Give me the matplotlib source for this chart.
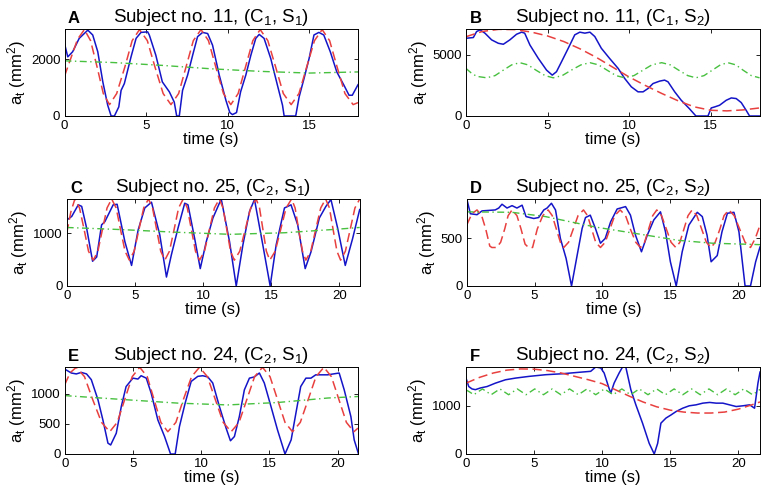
import matplotlib
matplotlib.use("Agg")
import matplotlib.pyplot as plt

plt.rcParams["font.family"] = ["Liberation Sans", "DejaVu Sans"]
plt.rcParams["mathtext.fontset"] = "custom"
plt.rcParams["mathtext.rm"] = "Liberation Sans"
plt.rcParams["mathtext.it"] = "Liberation Sans:italic"

BLUE = "#1414c8"
RED = "#e8403f"
GREEN = "#48c040"

# ---- Panel A: subject 11, (C1, S1) ----
a_blue_t = [0, 0.2, 0.5, 0.9, 1.43, 1.73, 2.04, 2.35, 2.65, 2.86, 3.06, 3.33, 3.47, 3.67, 4.08,
            4.39, 4.69, 5.1, 5.2, 5.6, 6.0, 6.43, 6.73, 6.88, 7.04, 7.24, 7.55, 7.86, 8.16, 8.47,
            8.78, 9.08, 9.49, 9.9, 10.14, 10.3, 10.55, 10.8, 11.12, 11.43, 11.73, 11.94, 12.24,
            12.65, 13.06, 13.37, 13.47, 14.18, 14.39, 14.69, 15.0, 15.3, 15.6, 15.9, 16.3, 16.7,
            17.14, 17.45, 17.65, 18.0]
a_blue_v = [2550, 2080, 2260, 2730, 3020, 2850, 2260, 1200, 380, 0, 0, 320, 900, 1140, 2080,
            2730, 2940, 2960, 2850, 2140, 1200, 850, 490, 0, 0, 900, 1440, 2140, 2790, 2940,
            2900, 2490, 1440, 550, 120, 50, 120, 850, 1440, 2140, 2730, 2870, 2730,
            2020, 1080, 380, 0, 0, 670, 1320, 2020, 2850, 2940, 2850, 2260, 1550,
            1080, 730, 730, 1100]
a_red_t = [0, 0.4, 0.8, 1.22, 1.6, 2.0, 2.38, 2.76, 3.2, 3.7, 4.15, 4.6, 5.08, 5.55, 6.05, 6.53,
           7.0, 7.45, 7.9, 8.37, 8.83, 9.28, 9.75, 10.2, 10.65, 11.1, 11.55, 12.0, 12.47, 12.95,
           13.42, 13.9, 14.38, 14.85, 15.33, 15.8, 16.26, 16.72, 17.2, 17.7, 18.0]
a_red_v = [1400, 2050, 2700, 3040, 2650, 1720, 790, 400, 790, 1720, 2650, 3040, 2650, 1720, 790, 400,
           790, 1720, 2650, 3040, 2650, 1720, 790, 400, 790, 1720, 2650, 3040, 2650, 1720,
           790, 400, 790, 1720, 2650, 3040, 2650, 1720, 790, 400, 470]
a_green_t = [0, 3, 6, 9, 12, 15, 18]
a_green_v = [1940, 1880, 1780, 1660, 1570, 1510, 1550]

# ---- Panel B: subject 11, (C1, S2) ----
b_blue_t = [0, 0.45, 0.65, 0.86, 1.16, 1.57, 1.98, 2.29, 2.69, 3.1, 3.41, 3.6, 3.92, 4.43, 4.94,
            5.29, 5.55, 5.86, 6.27, 6.67, 6.98, 7.29, 7.6, 7.9, 8.3, 8.8, 9.33, 9.73, 10.14,
            10.55, 10.86, 11.16, 11.47, 11.88, 12.18, 12.39, 12.8, 13.2, 13.7, 14.1, 14.84,
            15.04, 15.24, 15.55, 15.96, 16.27, 16.57, 16.88, 17.18, 17.39, 18.0]
b_blue_v = [6370, 6430, 6920, 7060, 6790, 6240, 5960, 5880, 6240, 6700, 6870, 6790, 5820, 4730, 3760,
            3350, 3630, 4450, 5550, 6650, 6870, 6790, 6870, 6510, 5550, 4730, 3900, 3080, 2390,
            1980, 1980, 2250, 2660, 2860, 2940, 2800, 1980, 1290, 600, 0, 0,
            660, 740, 880, 1290, 1480, 1430, 1100, 470, 0, 0]
b_red_t = [0, 1, 2, 3, 4, 5, 6, 7, 8, 9, 10, 11, 12, 13, 14, 15, 16, 17, 18]
b_red_v = [6500, 6930, 7100, 7080, 6880, 6560, 6100, 5500, 4800, 4000, 3200, 2500, 1850, 1250, 750,
           470, 420, 500, 660]
b_green_t = [0, 0.3, 0.65, 1.27, 1.78, 2.28, 2.8, 3.3, 3.8, 4.3, 4.85, 5.35, 5.9, 6.45, 7.05, 7.6,
             8.13, 8.66, 9.2, 9.73, 10.3, 10.85, 11.4, 12.0, 12.53, 13.05, 13.6, 14.1, 14.6, 15.1,
             15.6, 16.06, 16.55, 17.0, 17.5, 18.0]
b_green_v = [3900, 3550, 3250, 3130, 3310, 3750, 4190, 4370, 4190, 3750, 3310, 3130, 3310, 3750, 4190, 4370,
             4190, 3750, 3310, 3130, 3310, 3750, 4190, 4370, 4190, 3750, 3310, 3130, 3310, 3750,
             4190, 4370, 4190, 3750, 3310, 3130]

# ---- Panel C: subject 25, (C2, S1) ----
c_blue_t = [0, 0.37, 0.85, 1.1, 1.46, 1.9, 2.2, 2.56, 2.8, 3.41, 3.7, 4.27, 4.76, 5.24, 5.73, 6.22,
            6.83, 7.32, 7.68, 8.17, 8.66, 8.9, 9.39, 9.8, 10.24, 10.73, 11.34, 11.95, 12.44, 12.93,
            13.41, 13.78, 14.39, 14.93, 15.37, 15.98, 16.46, 16.95, 17.5, 17.93, 18.54, 19.02,
            19.39, 19.88, 20.44, 20.98, 21.5]
c_blue_v = [1250, 1320, 1540, 1510, 1100, 470, 550, 1160, 1220, 1540, 1550, 840, 390, 1060, 1480, 1590,
            970, 170, 590, 1100, 1570, 1540, 900, 330, 840, 1290, 1650, 840, 0, 780,
            1410, 1640, 780, 0, 780, 1480, 1540, 1160, 330, 650, 1290, 1510,
            1640, 1100, 390, 900, 1450]
c_red_t = [0, 0.3, 0.6, 0.94, 1.28, 1.6, 1.95, 2.29, 2.62, 2.96, 3.3, 3.63, 3.95, 4.28, 4.6, 4.95,
           5.3, 5.65, 6.0, 6.3, 6.6, 6.9, 7.2, 7.54, 7.88, 8.21, 8.55, 8.85, 9.15, 9.45, 9.75,
           10.11, 10.47, 10.84, 11.2, 11.47, 11.75, 12.02, 12.3, 12.7, 13.1, 13.5, 13.9, 14.15,
           14.4, 14.65, 14.9, 15.3, 15.7, 16.1, 16.5, 16.76, 17.02, 17.3, 17.55, 17.91, 18.27,
           18.64, 19.0, 19.28, 19.55, 19.83, 20.1, 20.45, 20.8, 21.15, 21.5]
c_red_v = [1000, 1400, 1650, 1480, 1070, 660, 490, 660, 1070, 1480, 1650, 1480, 1070, 660, 490, 660,
           1070, 1480, 1650, 1480, 1070, 660, 490, 660, 1070, 1480, 1650, 1480, 1070, 660, 490,
           660, 1070, 1480, 1650, 1480, 1070, 660, 490, 660, 1070, 1480, 1650, 1480,
           1070, 660, 490, 660, 1070, 1480, 1650, 1480, 1070, 660, 490, 660, 1070,
           1480, 1650, 1480, 1070, 660, 490, 660, 1070, 1480, 1650]
c_green_t = [0, 4, 8, 12, 16, 20, 21.5]
c_green_v = [1110, 1070, 1020, 980, 1010, 1080, 1110]

# ---- Panel D: subject 25, (C2, S2) ----
d_blue_t = [0, 0.27, 0.76, 1.13, 2.1, 2.36, 2.6, 2.97, 3.34, 3.7, 4.08, 4.37, 4.94, 5.3, 5.68, 5.92,
            6.24, 6.54, 6.9, 7.32, 7.72, 8.13, 8.5, 8.75, 9.1, 9.48, 9.85, 10.2, 10.6, 11.08, 11.7,
            12.06, 12.43, 12.87, 13.3, 13.78, 14.27, 14.64, 15.0, 15.43, 15.87, 16.36, 16.98,
            17.35, 17.7, 18.0, 18.45, 18.8, 19.2, 19.68, 20.05, 20.5, 20.9, 21.28, 21.6]
d_blue_v = [920, 760, 750, 790, 800, 820, 860, 820, 845, 820, 850, 730, 710, 720, 800, 820,
            870, 800, 500, 290, 0, 320, 605, 720, 745, 605, 450, 500, 675, 810, 835,
            745, 535, 360, 535, 695, 780, 570, 255, 0, 360, 640, 775,
            730, 535, 255, 320, 570, 765, 775, 570, 0, 0, 255, 410]
d_red_t = [0, 0.38, 0.76, 1.1, 1.4, 1.7, 1.85, 2.2, 2.5, 2.8, 3.05, 3.34, 3.7, 4.0, 4.3, 4.55, 4.85,
           5.2, 5.6, 6.0, 6.3, 6.6, 6.9, 7.15, 7.5, 7.85, 8.2, 8.6, 8.9, 9.2, 9.5, 9.85, 10.2,
           10.55, 10.9, 11.3, 11.7, 12.05, 12.45, 12.8, 13.1, 13.4, 13.7, 14.0, 14.35, 14.7,
           15.05, 15.4, 15.7, 16.0, 16.3, 16.6, 16.95, 17.3, 17.65, 18.0, 18.3, 18.65, 18.95,
           19.3, 19.7, 20.1, 20.5, 20.9, 21.25, 21.6]
d_red_v = [640, 760, 800, 740, 600, 420, 405, 405, 460, 600, 740, 800, 740, 600, 440, 405, 405,
           600, 740, 800, 740, 600, 460, 405, 460, 600, 740, 800, 740, 600, 460, 405, 460,
           600, 740, 800, 740, 600, 460, 405, 460, 600, 740, 800, 740, 600,
           460, 405, 460, 600, 740, 800, 740, 600, 460, 405, 460, 600, 740,
           800, 740, 600, 460, 405, 500, 640]
d_green_t = [0, 3.34, 5.8, 9.48, 13.2, 15.6, 18.1, 21.6]
d_green_v = [780, 775, 730, 620, 535, 480, 450, 435]

# ---- Panel E: subject 24, (C2, S1) ----
e_blue_t = [0, 0.49, 0.85, 1.22, 1.6, 1.95, 2.44, 2.8, 3.17, 3.37, 3.78, 4.15, 4.5, 5.0, 5.37, 5.6,
            5.98, 6.34, 6.83, 7.32, 7.76, 8.1, 8.41, 8.83, 9.27, 9.76, 10.12, 10.49, 10.85, 11.34,
            11.83, 12.15, 12.44, 12.8, 13.17, 13.54, 13.9, 14.27, 14.63, 15.12, 15.6, 16.15, 16.6,
            16.95, 17.3, 17.68, 18.05, 18.4, 19.27, 20.12, 20.49, 20.98, 21.22, 21.54]
e_blue_v = [1410, 1345, 1330, 1355, 1330, 1235, 900, 565, 180, 150, 345, 790, 1120, 1260, 1245, 1300,
            1260, 1010, 565, 290, 0, 0, 455, 845, 1205, 1290, 1300, 1280, 1180, 790,
            430, 220, 290, 620, 1065, 1260, 1280, 1345, 1180, 790, 400, 0, 235,
            680, 1120, 1260, 1260, 1315, 1315, 1345, 1065, 620, 235, 0]
e_red_t = [0, 0.4, 0.85, 1.45, 2.05, 2.7, 3.3, 3.85, 4.4, 4.95, 5.5, 6.05, 6.55, 7.05, 7.56, 8.15,
           8.7, 9.3, 9.88, 10.46, 11.04, 11.62, 12.2, 12.78, 13.35, 13.92, 14.5, 15.05, 15.6,
           16.15, 16.7, 17.27, 17.85, 18.42, 19.0, 19.55, 20.1, 20.65, 21.2, 21.5]
e_red_v = [1150, 1350, 1440, 1285, 905, 525, 370, 525, 905, 1285, 1440, 1285, 905, 525, 370, 525,
           905, 1285, 1440, 1285, 905, 525, 370, 525, 905, 1285, 1440, 1285, 905,
           525, 370, 525, 905, 1285, 1440, 1285, 905, 525, 370, 430]
e_green_t = [0, 4.6, 8.3, 11.95, 15.6, 19.3, 21.5]
e_green_v = [970, 900, 845, 815, 855, 930, 955]

# ---- Panel F: subject 24, (C2, S2) ----
f_blue_t = [0, 0.2, 0.44, 0.69, 1.06, 1.55, 2.16, 2.9, 3.64, 4.62, 5.85, 7.08, 8.3, 9.16, 9.53,
            9.9, 10.15, 10.5, 10.64, 10.88, 11.25, 11.5, 11.74, 12.11, 12.48, 12.97, 13.46,
            13.83, 14.08, 14.32, 14.69, 15.06, 15.43, 15.92, 16.4, 16.9, 17.4, 17.9, 18.38,
            18.87, 19.36, 19.85, 20.34, 20.84, 21.2, 21.45, 21.6]
f_blue_v = [1575, 1400, 1350, 1335, 1370, 1400, 1470, 1540, 1575, 1610, 1645, 1665, 1695, 1715, 1805,
            1785, 1680, 1370, 1265, 1470, 1680, 1805, 1805, 1335, 1020, 640, 220,
            0, 220, 640, 745, 810, 880, 950, 1000, 1020, 1055, 1070, 1055,
            1055, 1020, 985, 1000, 1020, 950, 1470, 1700]
f_red_t = [0, 1, 2, 3, 4, 5, 6, 7, 8, 9, 10, 11, 12, 13, 14, 15, 16, 17, 18, 19, 20, 21, 21.6]
f_red_v = [1470, 1590, 1680, 1740, 1765, 1760, 1730, 1680, 1610, 1540, 1460, 1330, 1200, 1080,
           980, 910, 870, 850, 850, 870, 930, 1020, 1080]
f_green_t = [0, 0.25, 0.57, 0.89, 1.21, 1.53, 1.85, 2.17, 2.49, 2.81, 3.13, 3.45, 3.77, 4.09,
             4.41, 4.73, 5.05, 5.37, 5.69, 6.01, 6.33, 6.65, 6.97, 7.29, 7.61, 7.93, 8.25, 8.57,
             8.89, 9.21, 9.53, 9.85, 10.17, 10.49, 10.81, 11.13, 11.45, 11.77, 12.09, 12.41,
             12.73, 13.05, 13.37, 13.69, 14.01, 14.33, 14.65, 14.97, 15.29, 15.61, 15.93, 16.25,
             16.57, 16.89, 17.21, 17.53, 17.85, 18.17, 18.49, 18.81, 19.13, 19.45, 19.77, 20.09,
             20.41, 20.73, 21.05, 21.37, 21.6]
f_green_v = [1330, 1290, 1230, 1290, 1350, 1290, 1230, 1290, 1350, 1290, 1230, 1290, 1350, 1290,
             1230, 1290, 1350, 1290, 1230, 1290, 1350, 1290, 1230, 1290, 1350, 1290, 1230, 1290,
             1350, 1290, 1230, 1290, 1350, 1290, 1230, 1290, 1350, 1290, 1230, 1290,
             1350, 1290, 1230, 1290, 1350, 1290, 1230, 1290, 1350, 1290, 1230, 1290,
             1350, 1290, 1230, 1290, 1350, 1290, 1230, 1290, 1350, 1290, 1230, 1290,
             1350, 1290, 1230, 1290, 1340]

letters = ["A", "B", "C", "D", "E", "F"]
titles = ["Subject no. 11, (C$_1$, S$_1$)", "Subject no. 11, (C$_1$, S$_2$)",
          "Subject no. 25, (C$_2$, S$_1$)", "Subject no. 25, (C$_2$, S$_2$)",
          "Subject no. 24, (C$_2$, S$_1$)", "Subject no. 24, (C$_2$, S$_2$)"]
x_max = [18, 18, 21.5, 21.6, 21.5, 21.6]
y_max = [3060, 7130, 1650, 915, 1445, 1805]
x_ticks = [[0, 5, 10, 15]] * 2 + [[0, 5, 10, 15, 20]] * 4
y_ticks = [[0, 2000], [0, 5000], [0, 1000], [0, 500], [0, 500, 1000], [0, 1000]]

series = [
    (a_blue_t, a_blue_v, a_red_t, a_red_v, a_green_t, a_green_v),
    (b_blue_t, b_blue_v, b_red_t, b_red_v, b_green_t, b_green_v),
    (c_blue_t, c_blue_v, c_red_t, c_red_v, c_green_t, c_green_v),
    (d_blue_t, d_blue_v, d_red_t, d_red_v, d_green_t, d_green_v),
    (e_blue_t, e_blue_v, e_red_t, e_red_v, e_green_t, e_green_v),
    (f_blue_t, f_blue_v, f_red_t, f_red_v, f_green_t, f_green_v),
]

# axes boxes in figure pixels: left, right, top, bottom (figure is 765 x 495)
boxes = [(64.5, 358, 29, 116), (466, 759.5, 29, 116),
         (66.7, 359.7, 199, 286), (466.7, 760, 199, 286),
         (64.7, 358, 367, 454), (466, 760, 367, 454)]

W, H = 765, 495
fig = plt.figure(figsize=(W / 100, H / 100), dpi=100)

for i, (bt, bv, rt, rv, gt, gv) in enumerate(series):
    l, r, t, b = boxes[i]
    ax = fig.add_axes([l / W, 1 - b / H, (r - l) / W, (b - t) / H])
    ax.plot(bt, bv, color=BLUE, lw=1.1)
    ax.plot(rt, rv, color=RED, lw=1.1, linestyle=(0, (6, 3)))
    ax.plot(gt, gv, color=GREEN, lw=1.0, linestyle=(0, (5, 2.5, 1, 2.5)))
    ax.set_xlim(0, x_max[i])
    ax.set_ylim(0, y_max[i])
    ax.set_xticks(x_ticks[i])
    ax.set_yticks(y_ticks[i])
    ax.tick_params(direction="in", top=True, right=True, length=3, width=0.6,
                   labelsize=9.5, pad=3)
    for s in ax.spines.values():
        s.set_linewidth(0.7)
    ax.set_xlabel("time (s)", fontsize=12, labelpad=0)
    ax.set_ylabel("a$_\\mathrm{t}$ (mm$^2$)", fontsize=12, labelpad=2)
    ax.set_title(titles[i], fontsize=13.5, pad=5)
    ax.text(0.012, 1.03, letters[i], transform=ax.transAxes, fontsize=12,
            fontweight="bold", ha="left", va="bottom")

fig.savefig("out.png", dpi=100)
